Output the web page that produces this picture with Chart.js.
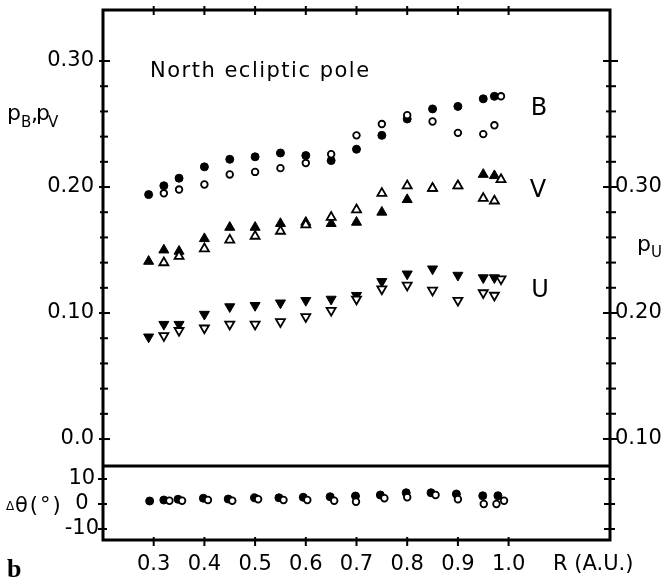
<!DOCTYPE html>
<html>
<head>
<meta charset="utf-8">
<script src="https://cdn.jsdelivr.net/npm/chart.js@4.4.1/dist/chart.umd.min.js"></script>
<style>
  html, body { margin: 0; padding: 0; background: #fff; }
</style>
</head>
<body>
<canvas id="grafico" width="662" height="580"></canvas>
<script>
// distancias al sol (A.U.)
const rLleno = [0.29, 0.32, 0.35, 0.40, 0.45, 0.50, 0.55, 0.60, 0.65, 0.70, 0.75, 0.80, 0.85, 0.90, 0.95, 0.972];
const rAbierto = [0.32, 0.35, 0.40, 0.45, 0.50, 0.55, 0.60, 0.65, 0.70, 0.75, 0.80, 0.85, 0.90, 0.95, 0.972, 0.985];

// polarizacion B, V (eje izquierdo) y U (eje derecho)
const pBLleno = [0.194, 0.201, 0.207, 0.216, 0.222, 0.224, 0.227, 0.225, 0.221, 0.230, 0.241, 0.254, 0.262, 0.264, 0.270, 0.272];
const pBAbierto = [0.195, 0.198, 0.202, 0.210, 0.212, 0.215, 0.219, 0.226, 0.241, 0.250, 0.257, 0.252, 0.243, 0.242, 0.249, 0.272];
const pVLleno = [0.141, 0.150, 0.149, 0.159, 0.168, 0.168, 0.171, 0.172, 0.171, 0.172, 0.180, 0.190, 0.199, 0.201, 0.210, 0.209];
const pVAbierto = [0.140, 0.145, 0.151, 0.158, 0.161, 0.165, 0.170, 0.176, 0.182, 0.195, 0.201, 0.199, 0.201, 0.191, 0.189, 0.206];
const pULleno = [0.181, 0.191, 0.191, 0.199, 0.205, 0.206, 0.208, 0.210, 0.211, 0.214, 0.225, 0.231, 0.235, 0.230, 0.228, 0.228];
const pUAbierto = [0.182, 0.186, 0.188, 0.191, 0.191, 0.193, 0.197, 0.202, 0.211, 0.219, 0.222, 0.218, 0.210, 0.216, 0.214, 0.227];

// delta theta (grados)
const rDtLleno = [0.292, 0.32, 0.348, 0.398, 0.447, 0.499, 0.547, 0.595, 0.648, 0.698, 0.747, 0.798, 0.847, 0.897, 0.949, 0.979];
const dtLleno = [1.2, 1.6, 1.9, 2.3, 2.0, 2.5, 2.5, 2.7, 2.9, 3.2, 3.6, 4.5, 4.5, 4.0, 3.3, 3.3];
const rDtAbierto = [0.331, 0.356, 0.407, 0.455, 0.506, 0.556, 0.603, 0.656, 0.699, 0.755, 0.800, 0.856, 0.900, 0.951, 0.976, 0.991];
const dtAbierto = [1.3, 1.3, 1.6, 1.3, 1.9, 1.6, 1.6, 1.3, 0.9, 2.3, 2.7, 3.6, 1.9, 0.0, 0.0, 1.3];

// marcas de los ejes
const xTicks = [0.3, 0.4, 0.5, 0.6, 0.7, 0.8, 0.9, 1.0, 1.167];
const xLabels = ['0.3', '0.4', '0.5', '0.6', '0.7', '0.8', '0.9', '1.0', 'R (A.U.)'];
const yTicks = [0, 0.1, 0.2, 0.3];
const yLabels = ['0.0', '0.10', '0.20', '0.30'];
const uTicks = [0.1, 0.2, 0.3];
const uLabels = ['0.10', '0.20', '0.30'];
const dtTicks = [-10, 0, 10];
const dtLabels = ['-10', '0', '10'];

const fuente = "'DejaVu Sans', sans-serif";
Chart.defaults.font.family = fuente;
Chart.defaults.color = '#000';

const puntos = (xs, ys) => xs.map((x, i) => ({ x: x, y: ys[i] }));

function serie(datos, eje, estilo, lleno, radio, giro) {
    return {
        data: datos,
        yAxisID: eje,
        pointStyle: estilo,
        pointRadius: radio,
        pointRotation: giro || 0,
        pointBackgroundColor: lleno ? '#000' : '#fff',
        pointBorderColor: '#000',
        pointBorderWidth: lleno ? 1 : 1.8,
        showLine: false,
        order: lleno ? 2 : 1
    };
}

// sin relleno extra alrededor de los ejes, el marco va fijo
function fijar(ancho, alto) {
    return s => {
        if (ancho) s.width = ancho;
        if (alto) s.height = alto;
        s.paddingTop = 0;
        s.paddingBottom = 0;
        s.paddingLeft = 0;
        s.paddingRight = 0;
    };
}

const marco = {
    id: 'marco',
    afterDraw(chart) {
        const ctx = chart.ctx;
        const a = chart.chartArea;
        const sx = chart.scales.x, sy = chart.scales.y, sd = chart.scales.yd, su = chart.scales.yu;
        ctx.save();
        ctx.strokeStyle = '#000';
        ctx.lineWidth = 3;
        ctx.strokeRect(a.left, a.top, a.right - a.left, a.bottom - a.top);
        ctx.beginPath();
        ctx.moveTo(a.left - 1, sy.bottom);
        ctx.lineTo(a.right + 1, sy.bottom);
        ctx.stroke();

        const raya = (x1, y1, x2, y2) => {
            ctx.beginPath();
            ctx.moveTo(x1, y1);
            ctx.lineTo(x2, y2);
            ctx.stroke();
        };
        ctx.lineWidth = 2;
        for (let i = 0; i <= 15; i++) {
            const py = sy.getPixelForValue(i * 0.02);
            const mayor = i % 5 === 0;
            raya(a.left - (mayor ? 4 : 3), py, a.left + (mayor ? 7 : 5), py);
            const pu = su.getPixelForValue(0.1 + i * 0.02);
            raya(a.right - (mayor ? 7 : 4), pu, a.right + (mayor ? 8 : 6), pu);
        }
        dtTicks.forEach(v => {
            const py = sd.getPixelForValue(v);
            raya(a.left - 5, py, a.left + 4, py);
            raya(a.right - 6, py, a.right + 5, py);
        });
        xTicks.slice(0, 8).forEach(v => {
            const px = sx.getPixelForValue(v);
            raya(px, a.top - 4, px, a.top + 5);
            raya(px, a.bottom - 3, px, a.bottom + 6);
        });

        // textos
        ctx.fillStyle = '#000';
        ctx.textBaseline = 'alphabetic';
        ctx.textAlign = 'left';
        ctx.font = '21px ' + fuente;
        ctx.letterSpacing = '1.5px';
        ctx.fillText('North ecliptic pole', 150, 77);
        ctx.letterSpacing = '0px';

        ctx.font = '24px ' + fuente;
        ctx.textAlign = 'center';
        ctx.fillText('B', 539, 115);
        ctx.fillText('V', 538, 197);
        ctx.fillText('U', 540, 297);

        ctx.textAlign = 'left';
        ctx.font = '22px ' + fuente;
        ctx.fillText('p', 7, 120);
        ctx.fillText(',', 31, 121);
        ctx.fillText('p', 36, 120);
        ctx.fillText('p', 637, 251);
        ctx.font = '15px ' + fuente;
        ctx.fillText('B', 21, 127);
        ctx.fillText('V', 48, 127);
        ctx.fillText('U', 651, 257);

        ctx.font = '12px ' + fuente;
        ctx.fillText('\u0394', 6, 510);
        ctx.font = '21px ' + fuente;
        ctx.letterSpacing = '2px';
        ctx.fillText('\u03b8(\u00b0)', 15, 512);
        ctx.letterSpacing = '0px';

        ctx.font = "bold 26px 'Liberation Serif', serif";
        ctx.fillText('b', 7, 577);
        ctx.restore();
    }
};

const ejeBase = {
    type: 'linear',
    grid: { display: false, drawTicks: false },
    border: { display: false }
};

const config = {
    type: 'scatter',
    data: {
        datasets: [
            serie(puntos(rLleno, pBLleno), 'y', 'circle', true, 4),
            serie(puntos(rAbierto, pBAbierto), 'y', 'circle', false, 3.3),
            serie(puntos(rLleno, pVLleno), 'y', 'triangle', true, 5.8),
            serie(puntos(rAbierto, pVAbierto), 'y', 'triangle', false, 5.2),
            serie(puntos(rLleno, pULleno), 'yu', 'triangle', true, 5.8, 180),
            serie(puntos(rAbierto, pUAbierto), 'yu', 'triangle', false, 5.2, 180),
            serie(puntos(rDtLleno, dtLleno), 'yd', 'circle', true, 4),
            serie(puntos(rDtAbierto, dtAbierto), 'yd', 'circle', false, 3.3)
        ]
    },
    options: {
        responsive: false,
        animation: false,
        events: [],
        layout: { padding: { top: 10, left: 0, right: 0, bottom: 0 } },
        plugins: { legend: { display: false }, tooltip: { enabled: false } },
        scales: {
            x: {
                ...ejeBase,
                position: 'bottom',
                min: 0.2,
                max: 1.2,
                afterBuildTicks: s => { s.ticks = xTicks.map(v => ({ value: v })); },
                afterFit: fijar(0, 40),
                ticks: { font: { size: 21 }, padding: 12, maxRotation: 0, autoSkip: false,
                         callback: (v, i) => xLabels[i] }
            },
            y: {
                ...ejeBase,
                position: 'left',
                stack: 'izq',
                stackWeight: 456,
                weight: 2,
                min: -0.0214,
                max: 0.3405,
                afterBuildTicks: s => { s.ticks = yTicks.map(v => ({ value: v })); },
                afterFit: fijar(103, 0),
                ticks: { font: { size: 21 }, padding: 9, crossAlign: 'near', autoSkip: false,
                         callback: (v, i) => yLabels[i] }
            },
            yd: {
                ...ejeBase,
                position: 'left',
                stack: 'izq',
                stackWeight: 74,
                weight: 1,
                min: -14.4,
                max: 15.2,
                afterBuildTicks: s => { s.ticks = dtTicks.map(v => ({ value: v })); },
                afterFit: fijar(103, 0),
                ticks: { font: { size: 21 }, padding: 4, crossAlign: 'center', autoSkip: false,
                         callback: (v, i) => dtLabels[i] }
            },
            yu: {
                ...ejeBase,
                position: 'right',
                min: 0.0198,
                max: 0.4405,
                afterBuildTicks: s => { s.ticks = uTicks.map(v => ({ value: v })); },
                afterFit: fijar(52, 0),
                ticks: { font: { size: 21 }, padding: 5, autoSkip: false,
                         callback: (v, i) => uLabels[i] }
            }
        }
    },
    plugins: [marco]
};

const grafico = new Chart(document.getElementById('grafico').getContext('2d'), config);
</script>
</body>
</html>
